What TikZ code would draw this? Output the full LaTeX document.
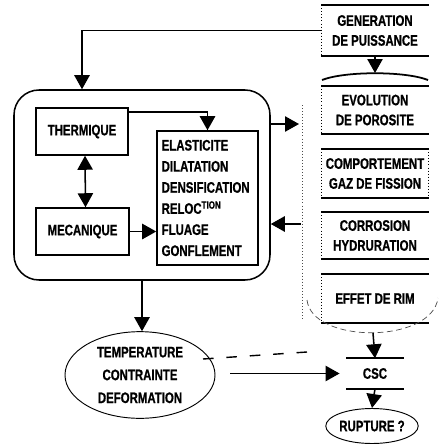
\documentclass[tikz,border=0pt]{standalone}
\usepackage{fontspec}
\setmainfont{Liberation Sans}[FakeStretch=0.75, BoldFeatures={FakeBold=0.8}]
\usepackage{tikz}
\usetikzlibrary{positioning,arrows.meta,shapes.geometric,calc}

\begin{document}
\begin{tikzpicture}[
  x=0.03cm, y=-0.03cm,
  font=\fontsize{13}{17}\selectfont\bfseries,
  line width=1.3pt,
  arr/.style={-{Triangle[length=4.2mm,width=4.6mm]}},
  dblarr/.style={{Triangle[length=4.2mm,width=4.6mm]}-{Triangle[length=4.2mm,width=4.6mm]}},
  blk/.style={draw, align=center, inner sep=0pt},
  band/.style={align=center, minimum width=3.18cm, inner sep=0pt},
  rule/.style={line width=1.5pt},
  faint/.style={line width=0.6pt, dash pattern=on 5pt off 3pt, black!70},
  oval/.style={ellipse, draw, line width=0.8pt, inner sep=0pt, align=center, font=\fontsize{13}{19.5}\selectfont\bfseries}
]
% picture frame, measured in pixels of the scan (origin top left)
\useasboundingbox (0,0) rectangle (440,445);

% Right column x-position
\def\cR{375}

% --- Code model (left) ---
\node[draw, rounded corners=0.75cm, minimum width=7.68cm, minimum height=5.7cm] (model) at (142,185) {};
\node[blk, minimum width=2.76cm, minimum height=1.41cm] (thermique) at (82,131.5) {THERMIQUE};
\node[blk, minimum width=2.79cm, minimum height=1.41cm] (mecanique) at (82.5,231.5) {MECANIQUE};
\node[blk, align=left, text width=2.75cm, inner xsep=4pt, minimum height=4.02cm,
      font=\fontsize{13}{18}\selectfont\bfseries] (props) at (207.5,198) {
  ELASTICITE\\
  DILATATION\\
  DENSIFICATION\\
  RELOC\textsuperscript{TION}\\
  FLUAGE\\
  GONFLEMENT
};

\draw[dblarr] ([xshift=0.09cm]thermique.south) -- ([xshift=0.09cm]mecanique.north);
\draw[arr] ([yshift=-0.15cm]thermique.north east) -| (props.north);
\draw[arr] (mecanique.east) -- (mecanique.east -| props.west);

% --- Right column (phenomena) ---
\node[band, minimum height=1.47cm] (gen) at (\cR,30.5) {GENERATION\\DE PUISSANCE};
\node[band, minimum height=1.38cm] (evol) at (\cR,110) {EVOLUTION\\DE POROSITE};
\node[band, minimum height=1.41cm] (comp) at (\cR,173.5) {COMPORTEMENT\\GAZ DE FISSION};
\node[band, minimum height=1.35cm] (corr) at (\cR,235.5) {CORROSION\\HYDRURATION};
\node[band, minimum height=1.41cm] (rim) at (\cR,298.5) {EFFET DE RIM};

\foreach \n in {gen,evol,comp,corr,rim} {
  \draw[rule] (\n.north west) -- (\n.north east);
  \draw[rule] (\n.south west) -- (\n.south east);
  \draw[line width=0.6pt, dotted] (\n.north west) -- (\n.south west);
}
\draw[line width=0.6pt, dotted] (comp.north east) -- (comp.south east);

% group outline: curved top, dashed bottom, dotted left side
\coordinate (gtop) at (\cR,73);
\coordinate (gbot) at (373,333);
\draw[rule] (322,80) .. controls (345,71) and (405,71) .. (428,80);
\draw[faint] (307,300) .. controls (312,344) and (432,344) .. (438,298);
\draw[line width=0.6pt, dotted, black!70] (302,105) -- (302,320);

\draw[arr] (gen.south) -- (gtop);

% links between model and column
\coordinate (toA) at (299,124);
\coordinate (toB) at (301,224);
\draw[arr] (gen.west) -| (model.north -| thermique.north);
\draw[arr] (model.east |- toA) -- (toA);
\draw[arr] (toB) -- (model.east |- toB);

% --- Bottom row ---
\node[oval, minimum width=4.5cm, minimum height=2.6cm] (temp) at (140,375) {TEMPERATURE\\CONTRAINTE\\DEFORMATION};
\node[band, minimum width=1.68cm, minimum height=0.87cm] (csc) at (\cR,373.5) {CSC};
\draw[rule] (csc.north west) -- (csc.north east);
\draw[rule] (csc.south west) -- (csc.south east);
\node[oval, minimum width=2.73cm, minimum height=1.05cm] (rupture) at (372,426) {RUPTURE ?};

\draw[arr] (model.south) -- (model.south |- temp.north);
\draw[arr, shorten <=0.45cm, shorten >=0.2cm] (temp.east |- csc) -- (csc.west);
\draw[arr] (gbot) -- (csc.north);
\draw[arr] (csc.south) -- (rupture.north);

% faint dashed trace above the CSC arrow
\coordinate (dA) at (203,359);
\coordinate (dB) at (307,352);
\draw[line width=1.2pt, dash pattern=on 9pt off 11pt] (dA) -- (dB);
\end{tikzpicture}
\end{document}
